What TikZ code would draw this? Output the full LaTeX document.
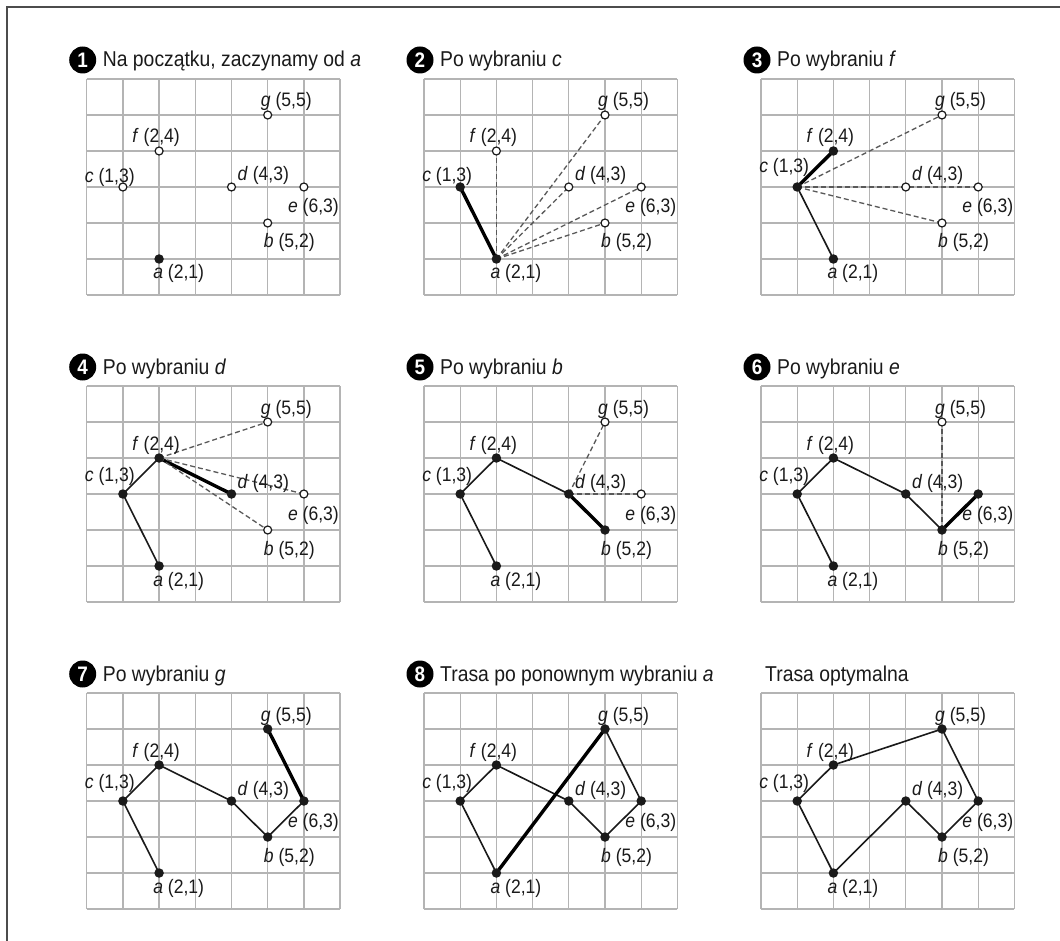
\documentclass[tikz,border=0pt]{standalone}
\usepackage{fontspec}
\setmainfont[FakeStretch=0.9]{Liberation Sans}
\definecolor{gridgray}{HTML}{B4B4B4}
\definecolor{ink}{HTML}{1A1A1A}
\pgfdeclarelayer{gridlayer}
\pgfdeclarelayer{edgelayer}
\pgfsetlayers{gridlayer,edgelayer,main}
\tikzset{
  frameline/.style={draw=black!70, line width=2pt},
  gridline/.style={draw=gridgray, line width=1.3pt},
  fpt/.style={circle, fill=ink, inner sep=0pt, minimum size=9.5pt},
  opt/.style={circle, draw=ink, fill=white, line width=1.2pt, inner sep=0pt, minimum size=8pt},
  solidedge/.style={draw=ink, line width=1.6pt},
  boldedge/.style={draw=black, line width=3.4pt},
  candedge/.style={draw=black!65, line width=1.3pt, dash pattern=on 5pt off 3pt},
  lab/.style={font=\fontsize{19.5}{21}\selectfont, text=ink, inner sep=0pt},
  ttl/.style={font=\fontsize{21.5}{23}\selectfont, anchor=base west, inner sep=0pt, text=ink},
  numc/.style={circle, fill=black, text=white, font=\fontsize{21}{21}\selectfont\bfseries, minimum size=27pt, inner sep=0pt},
}
% grid of one panel
\newcommand{\pgrid}{%
  \begin{pgfonlayer}{gridlayer}
    \foreach \i in {0,...,7} \draw[gridline] (\i,0) -- (\i,6);
    \foreach \j in {0,...,6} \draw[gridline] (0,\j) -- (7,\j);
  \end{pgfonlayer}}
% the seven points: #1 prefix, #2..#8 styles of a..g
\newcommand{\pts}[8]{%
  \node[#2] (#1a) at (2,1) {};
  \node[#3] (#1b) at (5,2) {};
  \node[#4] (#1c) at (1,3) {};
  \node[#5] (#1d) at (4,3) {};
  \node[#6] (#1e) at (6,3) {};
  \node[#7] (#1f) at (2,4) {};
  \node[#8] (#1g) at (5,5) {};}
% labels: #1 prefix, #2 raise of the c label
\newcommand{\plabels}[2]{%
  \node[lab, anchor=base west, xshift=-6pt, yshift=-20pt] (#1la) at (#1a.center) {\textit{a} (2,1)};
  \node[lab, anchor=base west, xshift=-4pt, yshift=-25pt] (#1lb) at (#1b.center) {\textit{b} (5,2)};
  \node[lab, anchor=base east, xshift=12pt, yshift=#2] (#1lc) at (#1c.center) {\textit{c} (1,3)};
  \node[lab, anchor=base west, xshift=6pt, yshift=6pt] (#1ld) at (#1d.center) {\textit{d} (4,3)};
  \node[lab, anchor=base west, xshift=-16pt, yshift=-26pt] (#1le) at (#1e.center) {\textit{e} (6,3)};
  \node[lab, anchor=base, xshift=-3pt, yshift=8pt] (#1lf) at (#1f.center) {\textit{f} (2,4)};
  \node[lab, anchor=base west, xshift=-7pt, yshift=8pt] (#1lg) at (#1g.center) {\textit{g} (5,5)};}
% title with number: #1 prefix, #2 number, #3 text
\newcommand{\ptitle}[3]{%
  \coordinate (#1tl) at (0,6);
  \node[numc, xshift=-4pt, yshift=19pt] (#1num) at (#1tl) {#2};
  \node[ttl, xshift=16pt, yshift=12pt] (#1ttl) at (#1tl) {#3};}
\newcommand{\E}[3]{\draw[#1] (#2.center) -- (#3.center);}
\begin{document}
\begin{tikzpicture}[x=1pt,y=1pt]
\useasboundingbox (0,0) rectangle (1060,-941);
\begin{pgfonlayer}{gridlayer}
  \fill[white] (0,0) rectangle (1060,-941);
\end{pgfonlayer}
\coordinate (frA) at (1060,-7);
\coordinate (frB) at (7,-7);
\coordinate (frC) at (7,-941);
\draw[frameline] (frA) -- (frB) -- (frC);

% ---------- panel 1
\begin{scope}[shift={(86.7pt,-295pt)}, x=36.2pt, y=36pt]
  \pgrid
  \pts{p1}{fpt}{opt}{opt}{opt}{opt}{opt}{opt}
  \plabels{p1}{4pt}
  \ptitle{p1}{1}{Na początku, zaczynamy od \textit{a}}
\end{scope}

% ---------- panel 2
\begin{scope}[shift={(424pt,-295pt)}, x=36.2pt, y=36pt]
  \pgrid
  \pts{p2}{fpt}{opt}{fpt}{opt}{opt}{opt}{opt}
  \plabels{p2}{5pt}
  \ptitle{p2}{2}{Po wybraniu \textit{c}}
  \begin{pgfonlayer}{edgelayer}
    \E{boldedge}{p2c}{p2a}
    \E{candedge}{p2a}{p2f}
    \E{candedge}{p2a}{p2g}
    \E{candedge}{p2a}{p2d}
    \E{candedge}{p2a}{p2e}
    \E{candedge}{p2a}{p2b}
  \end{pgfonlayer}
\end{scope}

% ---------- panel 3
\begin{scope}[shift={(761pt,-295pt)}, x=36.2pt, y=36pt]
  \pgrid
  \pts{p3}{fpt}{opt}{fpt}{opt}{opt}{fpt}{opt}
  \plabels{p3}{14pt}
  \ptitle{p3}{3}{Po wybraniu \textit{f}}
  \begin{pgfonlayer}{edgelayer}
    \E{solidedge}{p3a}{p3c}
    \E{boldedge}{p3c}{p3f}
    \E{candedge}{p3c}{p3g}
    \E{candedge}{p3c}{p3d}
    \E{candedge}{p3c}{p3e}
    \E{candedge}{p3c}{p3b}
  \end{pgfonlayer}
\end{scope}

% ---------- panel 4
\begin{scope}[shift={(86.7pt,-602pt)}, x=36.2pt, y=36pt]
  \pgrid
  \pts{p4}{fpt}{opt}{fpt}{fpt}{opt}{fpt}{opt}
  \plabels{p4}{13pt}
  \ptitle{p4}{4}{Po wybraniu \textit{d}}
  \begin{pgfonlayer}{edgelayer}
    \E{solidedge}{p4a}{p4c}
    \E{solidedge}{p4c}{p4f}
    \E{boldedge}{p4f}{p4d}
    \E{candedge}{p4f}{p4g}
    \E{candedge}{p4f}{p4e}
    \E{candedge}{p4f}{p4b}
  \end{pgfonlayer}
\end{scope}

% ---------- panel 5
\begin{scope}[shift={(424pt,-602pt)}, x=36.2pt, y=36pt]
  \pgrid
  \pts{p5}{fpt}{fpt}{fpt}{fpt}{opt}{fpt}{opt}
  \plabels{p5}{13pt}
  \ptitle{p5}{5}{Po wybraniu \textit{b}}
  \begin{pgfonlayer}{edgelayer}
    \E{solidedge}{p5a}{p5c}
    \E{solidedge}{p5c}{p5f}
    \E{solidedge}{p5f}{p5d}
    \E{boldedge}{p5d}{p5b}
    \E{candedge}{p5d}{p5g}
    \E{candedge}{p5d}{p5e}
  \end{pgfonlayer}
\end{scope}

% ---------- panel 6
\begin{scope}[shift={(761pt,-602pt)}, x=36.2pt, y=36pt]
  \pgrid
  \pts{p6}{fpt}{fpt}{fpt}{fpt}{fpt}{fpt}{opt}
  \plabels{p6}{13pt}
  \ptitle{p6}{6}{Po wybraniu \textit{e}}
  \begin{pgfonlayer}{edgelayer}
    \E{solidedge}{p6a}{p6c}
    \E{solidedge}{p6c}{p6f}
    \E{solidedge}{p6f}{p6d}
    \E{solidedge}{p6d}{p6b}
    \E{boldedge}{p6b}{p6e}
    \E{candedge}{p6b}{p6g}
  \end{pgfonlayer}
\end{scope}

% ---------- panel 7
\begin{scope}[shift={(86.7pt,-909pt)}, x=36.2pt, y=36pt]
  \pgrid
  \pts{p7}{fpt}{fpt}{fpt}{fpt}{fpt}{fpt}{fpt}
  \plabels{p7}{13pt}
  \ptitle{p7}{7}{Po wybraniu \textit{g}}
  \begin{pgfonlayer}{edgelayer}
    \E{solidedge}{p7a}{p7c}
    \E{solidedge}{p7c}{p7f}
    \E{solidedge}{p7f}{p7d}
    \E{solidedge}{p7d}{p7b}
    \E{solidedge}{p7b}{p7e}
    \E{boldedge}{p7e}{p7g}
  \end{pgfonlayer}
\end{scope}

% ---------- panel 8
\begin{scope}[shift={(424pt,-909pt)}, x=36.2pt, y=36pt]
  \pgrid
  \pts{p8}{fpt}{fpt}{fpt}{fpt}{fpt}{fpt}{fpt}
  \plabels{p8}{13pt}
  \ptitle{p8}{8}{Trasa po ponownym wybraniu \textit{a}}
  \begin{pgfonlayer}{edgelayer}
    \E{solidedge}{p8a}{p8c}
    \E{solidedge}{p8c}{p8f}
    \E{solidedge}{p8f}{p8d}
    \E{solidedge}{p8d}{p8b}
    \E{solidedge}{p8b}{p8e}
    \E{solidedge}{p8e}{p8g}
    \E{boldedge}{p8g}{p8a}
  \end{pgfonlayer}
\end{scope}

% ---------- panel 9
\begin{scope}[shift={(761pt,-909pt)}, x=36.2pt, y=36pt]
  \pgrid
  \pts{p9}{fpt}{fpt}{fpt}{fpt}{fpt}{fpt}{fpt}
  \plabels{p9}{13pt}
  \coordinate (p9tl) at (0,6);
  \node[ttl, xshift=4pt, yshift=12pt] (p9ttl) at (p9tl) {Trasa optymalna};
  \begin{pgfonlayer}{edgelayer}
    \E{solidedge}{p9a}{p9c}
    \E{solidedge}{p9c}{p9f}
    \E{solidedge}{p9f}{p9g}
    \E{solidedge}{p9g}{p9e}
    \E{solidedge}{p9e}{p9b}
    \E{solidedge}{p9b}{p9d}
    \E{solidedge}{p9d}{p9a}
  \end{pgfonlayer}
\end{scope}
\end{tikzpicture}
\end{document}
